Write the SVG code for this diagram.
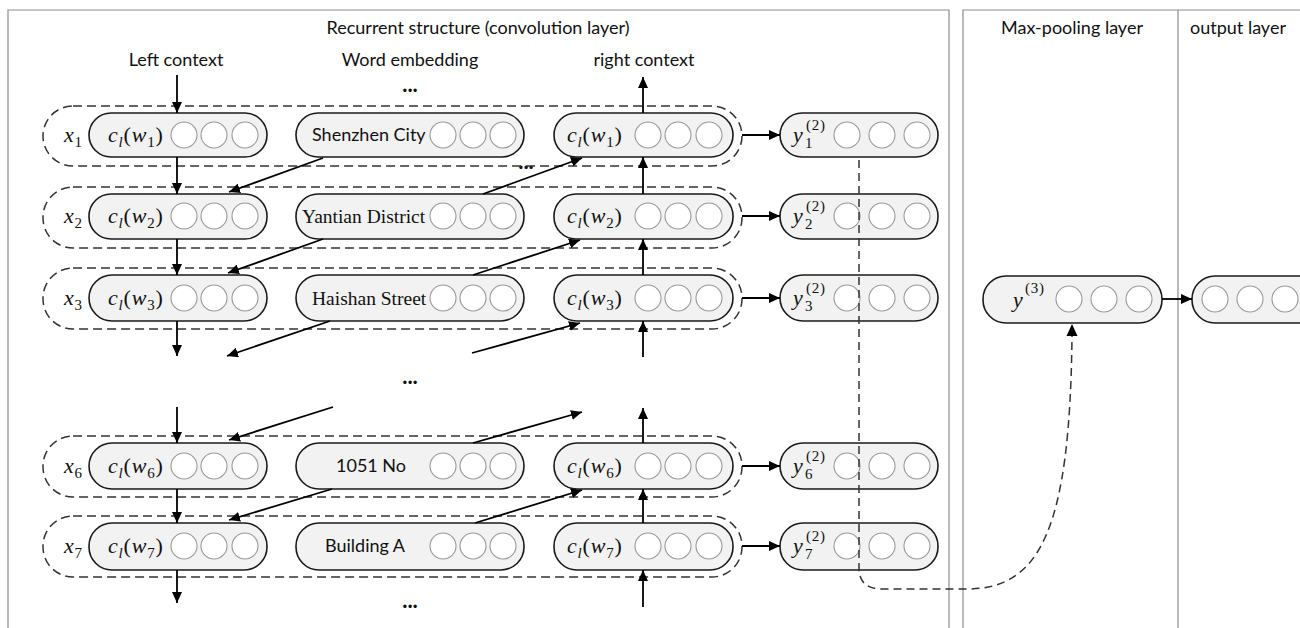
<svg xmlns="http://www.w3.org/2000/svg" width="1300" height="628" viewBox="0 0 1300 628">
<style>
.frame{fill:none;stroke:#8c8c8c;stroke-width:1.2}
.pill{fill:#f2f2f2;stroke:#1a1a1a;stroke-width:1.6}
.cir{fill:#fff;stroke:#999;stroke-width:1.1}
.grp{fill:none;stroke:#333;stroke-width:1.5;stroke-dasharray:9 5}
.t{font-family:Lato,"Liberation Sans",sans-serif;font-size:18px;fill:#111}
.ws{font-family:Lato,"Liberation Sans",sans-serif;font-size:18px;fill:#111}
.wr{font-family:"Liberation Serif",serif;font-size:19.5px;fill:#111}
.m{font-family:"Liberation Serif",serif;font-size:22px;font-style:italic;fill:#111;letter-spacing:0.8px}
.up{font-style:normal}
.sb{font-size:15px}
.dots{font-family:Lato,"Liberation Sans",sans-serif;font-size:22px;font-weight:bold;fill:#111}
.ar{stroke:#000;stroke-width:1.8;fill:none;marker-end:url(#ah)}
.dash{stroke:#333;stroke-width:1.5;fill:none;stroke-dasharray:8 5}
</style>
<defs>
<marker id="ah" markerUnits="userSpaceOnUse" markerWidth="12" markerHeight="10" refX="11" refY="5" orient="auto">
<path d="M0,0 L11,5 L0,10 z" fill="#000"/>
</marker>
</defs>
<rect width="1300" height="628" fill="#fff"/>
<g id="frames">
<path class="frame" d="M8,630 V10 H949 V630"/>
<path class="frame" d="M963,630 V10 H1302 M1178,10 V630"/>
<text class="t" x="478" y="34" text-anchor="middle">Recurrent structure (convolution layer)</text>
<text class="t" x="1072" y="34" text-anchor="middle">Max-pooling layer</text>
<text class="t" x="1238" y="34" text-anchor="middle">output layer</text>
<text class="t" x="176" y="66" text-anchor="middle">Left context</text>
<text class="t" x="410" y="66" text-anchor="middle">Word embedding</text>
<text class="t" x="644" y="66" text-anchor="middle">right context</text>
<text class="dots" x="410" y="92" text-anchor="middle">...</text>
<text class="dots" x="526" y="169" text-anchor="middle" font-size="15">...</text>
<text class="dots" x="410" y="384" text-anchor="middle">...</text>
<text class="dots" x="410" y="608" text-anchor="middle">...</text>
</g>

<g id="groups">
<rect class="grp" x="43" y="106" width="699" height="60" rx="30"/>
<rect class="grp" x="43" y="187" width="699" height="61" rx="30"/>
<rect class="grp" x="43" y="268" width="699" height="61" rx="30"/>
<rect class="grp" x="43" y="436" width="699" height="61" rx="30"/>
<rect class="grp" x="43" y="516" width="699" height="61" rx="30"/>
</g>

<g id="row1">
<text class="m" x="64" y="142">x<tspan class="sb up" dy="5">1</tspan></text>
<g id="cl1"><rect class="pill" x="89" y="113" width="178" height="44" rx="22"/>
<text class="m" x="108" y="142">c<tspan class="sb" dy="5">l</tspan><tspan class="up" dy="-5">(</tspan>w<tspan class="sb up" dy="5">1</tspan><tspan class="up" dy="-5">)</tspan></text>
<circle class="cir" cx="184" cy="135" r="13"/><circle class="cir" cx="214" cy="135" r="13"/><circle class="cir" cx="245" cy="135" r="13"/></g>
<g id="we1"><rect class="pill" x="296" y="113" width="228" height="44" rx="22"/>
<text class="ws" x="312" y="141">Shenzhen City</text>
<circle class="cir" cx="443" cy="135" r="13"/><circle class="cir" cx="473" cy="135" r="13"/><circle class="cir" cx="503" cy="135" r="13"/></g>
<g id="cr1"><rect class="pill" x="554" y="113" width="179" height="44" rx="22"/>
<text class="m" x="567" y="142">c<tspan class="sb" dy="5">l</tspan><tspan class="up" dy="-5">(</tspan>w<tspan class="sb up" dy="5">1</tspan><tspan class="up" dy="-5">)</tspan></text>
<circle class="cir" cx="648" cy="135" r="13"/><circle class="cir" cx="678" cy="135" r="13"/><circle class="cir" cx="709" cy="135" r="13"/></g>
<g id="y1"><rect class="pill" x="780" y="113" width="158" height="44" rx="22"/>
<text class="m" x="793" y="142">y<tspan class="sb up" x="805" y="148">1</tspan><tspan class="sb up" x="806" y="130">(2)</tspan></text>
<circle class="cir" cx="847" cy="135" r="13"/><circle class="cir" cx="882" cy="135" r="13"/><circle class="cir" cx="917" cy="135" r="13"/></g>
</g>

<g id="row2">
<text class="m" x="64" y="223">x<tspan class="sb up" dy="5">2</tspan></text>
<g id="cl2"><rect class="pill" x="89" y="194" width="178" height="45" rx="22"/>
<text class="m" x="108" y="223">c<tspan class="sb" dy="5">l</tspan><tspan class="up" dy="-5">(</tspan>w<tspan class="sb up" dy="5">2</tspan><tspan class="up" dy="-5">)</tspan></text>
<circle class="cir" cx="184" cy="216" r="13"/><circle class="cir" cx="214" cy="216" r="13"/><circle class="cir" cx="245" cy="216" r="13"/></g>
<g id="we2"><rect class="pill" x="296" y="194" width="228" height="45" rx="22"/>
<text class="wr" x="302" y="223">Yantian District</text>
<circle class="cir" cx="443" cy="216" r="13"/><circle class="cir" cx="473" cy="216" r="13"/><circle class="cir" cx="503" cy="216" r="13"/></g>
<g id="cr2"><rect class="pill" x="554" y="194" width="179" height="45" rx="22"/>
<text class="m" x="567" y="223">c<tspan class="sb" dy="5">l</tspan><tspan class="up" dy="-5">(</tspan>w<tspan class="sb up" dy="5">2</tspan><tspan class="up" dy="-5">)</tspan></text>
<circle class="cir" cx="648" cy="216" r="13"/><circle class="cir" cx="678" cy="216" r="13"/><circle class="cir" cx="709" cy="216" r="13"/></g>
<g id="y2"><rect class="pill" x="780" y="194" width="158" height="45" rx="22"/>
<text class="m" x="793" y="223">y<tspan class="sb up" x="805" y="229">2</tspan><tspan class="sb up" x="806" y="211">(2)</tspan></text>
<circle class="cir" cx="847" cy="216" r="13"/><circle class="cir" cx="882" cy="216" r="13"/><circle class="cir" cx="917" cy="216" r="13"/></g>
</g>

<g id="row3">
<text class="m" x="64" y="305">x<tspan class="sb up" dy="5">3</tspan></text>
<g id="cl3"><rect class="pill" x="89" y="275" width="178" height="46" rx="23"/>
<text class="m" x="108" y="305">c<tspan class="sb" dy="5">l</tspan><tspan class="up" dy="-5">(</tspan>w<tspan class="sb up" dy="5">3</tspan><tspan class="up" dy="-5">)</tspan></text>
<circle class="cir" cx="184" cy="298" r="13"/><circle class="cir" cx="214" cy="298" r="13"/><circle class="cir" cx="245" cy="298" r="13"/></g>
<g id="we3"><rect class="pill" x="296" y="275" width="228" height="46" rx="23"/>
<text class="wr" x="312" y="305">Haishan Street</text>
<circle class="cir" cx="443" cy="298" r="13"/><circle class="cir" cx="473" cy="298" r="13"/><circle class="cir" cx="503" cy="298" r="13"/></g>
<g id="cr3"><rect class="pill" x="554" y="275" width="179" height="46" rx="23"/>
<text class="m" x="567" y="305">c<tspan class="sb" dy="5">l</tspan><tspan class="up" dy="-5">(</tspan>w<tspan class="sb up" dy="5">3</tspan><tspan class="up" dy="-5">)</tspan></text>
<circle class="cir" cx="648" cy="298" r="13"/><circle class="cir" cx="678" cy="298" r="13"/><circle class="cir" cx="709" cy="298" r="13"/></g>
<g id="y3"><rect class="pill" x="780" y="275" width="158" height="46" rx="23"/>
<text class="m" x="793" y="305">y<tspan class="sb up" x="805" y="311">3</tspan><tspan class="sb up" x="806" y="293">(2)</tspan></text>
<circle class="cir" cx="847" cy="298" r="13"/><circle class="cir" cx="882" cy="298" r="13"/><circle class="cir" cx="917" cy="298" r="13"/></g>
</g>

<g id="row6">
<text class="m" x="64" y="473">x<tspan class="sb up" dy="5">6</tspan></text>
<g id="cl6"><rect class="pill" x="89" y="443" width="178" height="46" rx="23"/>
<text class="m" x="108" y="473">c<tspan class="sb" dy="5">l</tspan><tspan class="up" dy="-5">(</tspan>w<tspan class="sb up" dy="5">6</tspan><tspan class="up" dy="-5">)</tspan></text>
<circle class="cir" cx="184" cy="466" r="13"/><circle class="cir" cx="214" cy="466" r="13"/><circle class="cir" cx="245" cy="466" r="13"/></g>
<g id="we6"><rect class="pill" x="296" y="443" width="228" height="46" rx="23"/>
<text class="ws" x="336" y="472">1051 No</text>
<circle class="cir" cx="443" cy="466" r="13"/><circle class="cir" cx="473" cy="466" r="13"/><circle class="cir" cx="503" cy="466" r="13"/></g>
<g id="cr6"><rect class="pill" x="554" y="443" width="179" height="46" rx="23"/>
<text class="m" x="567" y="473">c<tspan class="sb" dy="5">l</tspan><tspan class="up" dy="-5">(</tspan>w<tspan class="sb up" dy="5">6</tspan><tspan class="up" dy="-5">)</tspan></text>
<circle class="cir" cx="648" cy="466" r="13"/><circle class="cir" cx="678" cy="466" r="13"/><circle class="cir" cx="709" cy="466" r="13"/></g>
<g id="y6"><rect class="pill" x="780" y="443" width="158" height="46" rx="23"/>
<text class="m" x="793" y="473">y<tspan class="sb up" x="805" y="479">6</tspan><tspan class="sb up" x="806" y="461">(2)</tspan></text>
<circle class="cir" cx="847" cy="466" r="13"/><circle class="cir" cx="882" cy="466" r="13"/><circle class="cir" cx="917" cy="466" r="13"/></g>
</g>

<g id="row7">
<text class="m" x="64" y="553">x<tspan class="sb up" dy="5">7</tspan></text>
<g id="cl7"><rect class="pill" x="89" y="523" width="178" height="47" rx="23"/>
<text class="m" x="108" y="553">c<tspan class="sb" dy="5">l</tspan><tspan class="up" dy="-5">(</tspan>w<tspan class="sb up" dy="5">7</tspan><tspan class="up" dy="-5">)</tspan></text>
<circle class="cir" cx="184" cy="546" r="13"/><circle class="cir" cx="214" cy="546" r="13"/><circle class="cir" cx="245" cy="546" r="13"/></g>
<g id="we7"><rect class="pill" x="296" y="523" width="228" height="47" rx="23"/>
<text class="ws" x="325" y="552">Building A</text>
<circle class="cir" cx="443" cy="546" r="13"/><circle class="cir" cx="473" cy="546" r="13"/><circle class="cir" cx="503" cy="546" r="13"/></g>
<g id="cr7"><rect class="pill" x="554" y="523" width="179" height="47" rx="23"/>
<text class="m" x="567" y="553">c<tspan class="sb" dy="5">l</tspan><tspan class="up" dy="-5">(</tspan>w<tspan class="sb up" dy="5">7</tspan><tspan class="up" dy="-5">)</tspan></text>
<circle class="cir" cx="648" cy="546" r="13"/><circle class="cir" cx="678" cy="546" r="13"/><circle class="cir" cx="709" cy="546" r="13"/></g>
<g id="y7"><rect class="pill" x="780" y="523" width="158" height="47" rx="23"/>
<text class="m" x="793" y="553">y<tspan class="sb up" x="805" y="559">7</tspan><tspan class="sb up" x="806" y="541">(2)</tspan></text>
<circle class="cir" cx="847" cy="546" r="13"/><circle class="cir" cx="882" cy="546" r="13"/><circle class="cir" cx="917" cy="546" r="13"/></g>
</g>

<g id="ymax"><rect class="pill" x="983" y="276" width="179" height="47" rx="23"/>
<text class="m" x="1013" y="307">y<tspan class="sb up" x="1025" y="293">(3)</tspan></text>
<circle class="cir" cx="1069" cy="299" r="13"/><circle class="cir" cx="1104" cy="299" r="13"/><circle class="cir" cx="1139" cy="299" r="13"/></g>

<g id="output"><rect class="pill" x="1192" y="276" width="200" height="47" rx="23"/>
<circle class="cir" cx="1215" cy="299" r="13"/><circle class="cir" cx="1250" cy="299" r="13"/><circle class="cir" cx="1285" cy="299" r="13"/></g>

<g id="connectors">
<line class="ar" x1="177" y1="75" x2="177" y2="113"/>
<line class="ar" x1="177" y1="157" x2="177" y2="194"/>
<line class="ar" x1="177" y1="239" x2="177" y2="275"/>
<line class="ar" x1="177" y1="321" x2="177" y2="356"/>
<line class="ar" x1="177" y1="407" x2="177" y2="443"/>
<line class="ar" x1="177" y1="489" x2="177" y2="523"/>
<line class="ar" x1="177" y1="570" x2="177" y2="603"/>
<line class="ar" x1="643" y1="113" x2="643" y2="77"/>
<line class="ar" x1="643" y1="194" x2="643" y2="157"/>
<line class="ar" x1="643" y1="275" x2="643" y2="239"/>
<line class="ar" x1="643" y1="357" x2="643" y2="321"/>
<line class="ar" x1="643" y1="443" x2="643" y2="408"/>
<line class="ar" x1="643" y1="523" x2="643" y2="489"/>
<line class="ar" x1="643" y1="607" x2="643" y2="570"/>
<line class="ar" x1="323" y1="158" x2="229" y2="192"/>
<line class="ar" x1="323" y1="239" x2="228" y2="273"/>
<line class="ar" x1="330" y1="321" x2="227" y2="356"/>
<line class="ar" x1="333" y1="407" x2="229" y2="440"/>
<line class="ar" x1="332" y1="489" x2="229" y2="520"/>
<line class="ar" x1="483" y1="194" x2="582" y2="158"/>
<line class="ar" x1="473" y1="275" x2="580" y2="240"/>
<line class="ar" x1="472" y1="353" x2="580" y2="323"/>
<line class="ar" x1="473" y1="443" x2="582" y2="412"/>
<line class="ar" x1="475" y1="523" x2="582" y2="490"/>
<line class="ar" x1="742" y1="135" x2="780" y2="135"/>
<line class="ar" x1="742" y1="216" x2="780" y2="216"/>
<line class="ar" x1="742" y1="298" x2="780" y2="298"/>
<line class="ar" x1="742" y1="466" x2="780" y2="466"/>
<line class="ar" x1="742" y1="546" x2="780" y2="546"/>
<line class="ar" x1="1162" y1="299" x2="1192" y2="299"/>
<path class="dash" d="M859,160 V568 Q859,589 882,589 H967 C1040,589 1070,530 1072,336"/>
<path d="M1066.5,336 L1072,324 L1077.5,336 z" fill="#000"/>
</g>
</svg>
